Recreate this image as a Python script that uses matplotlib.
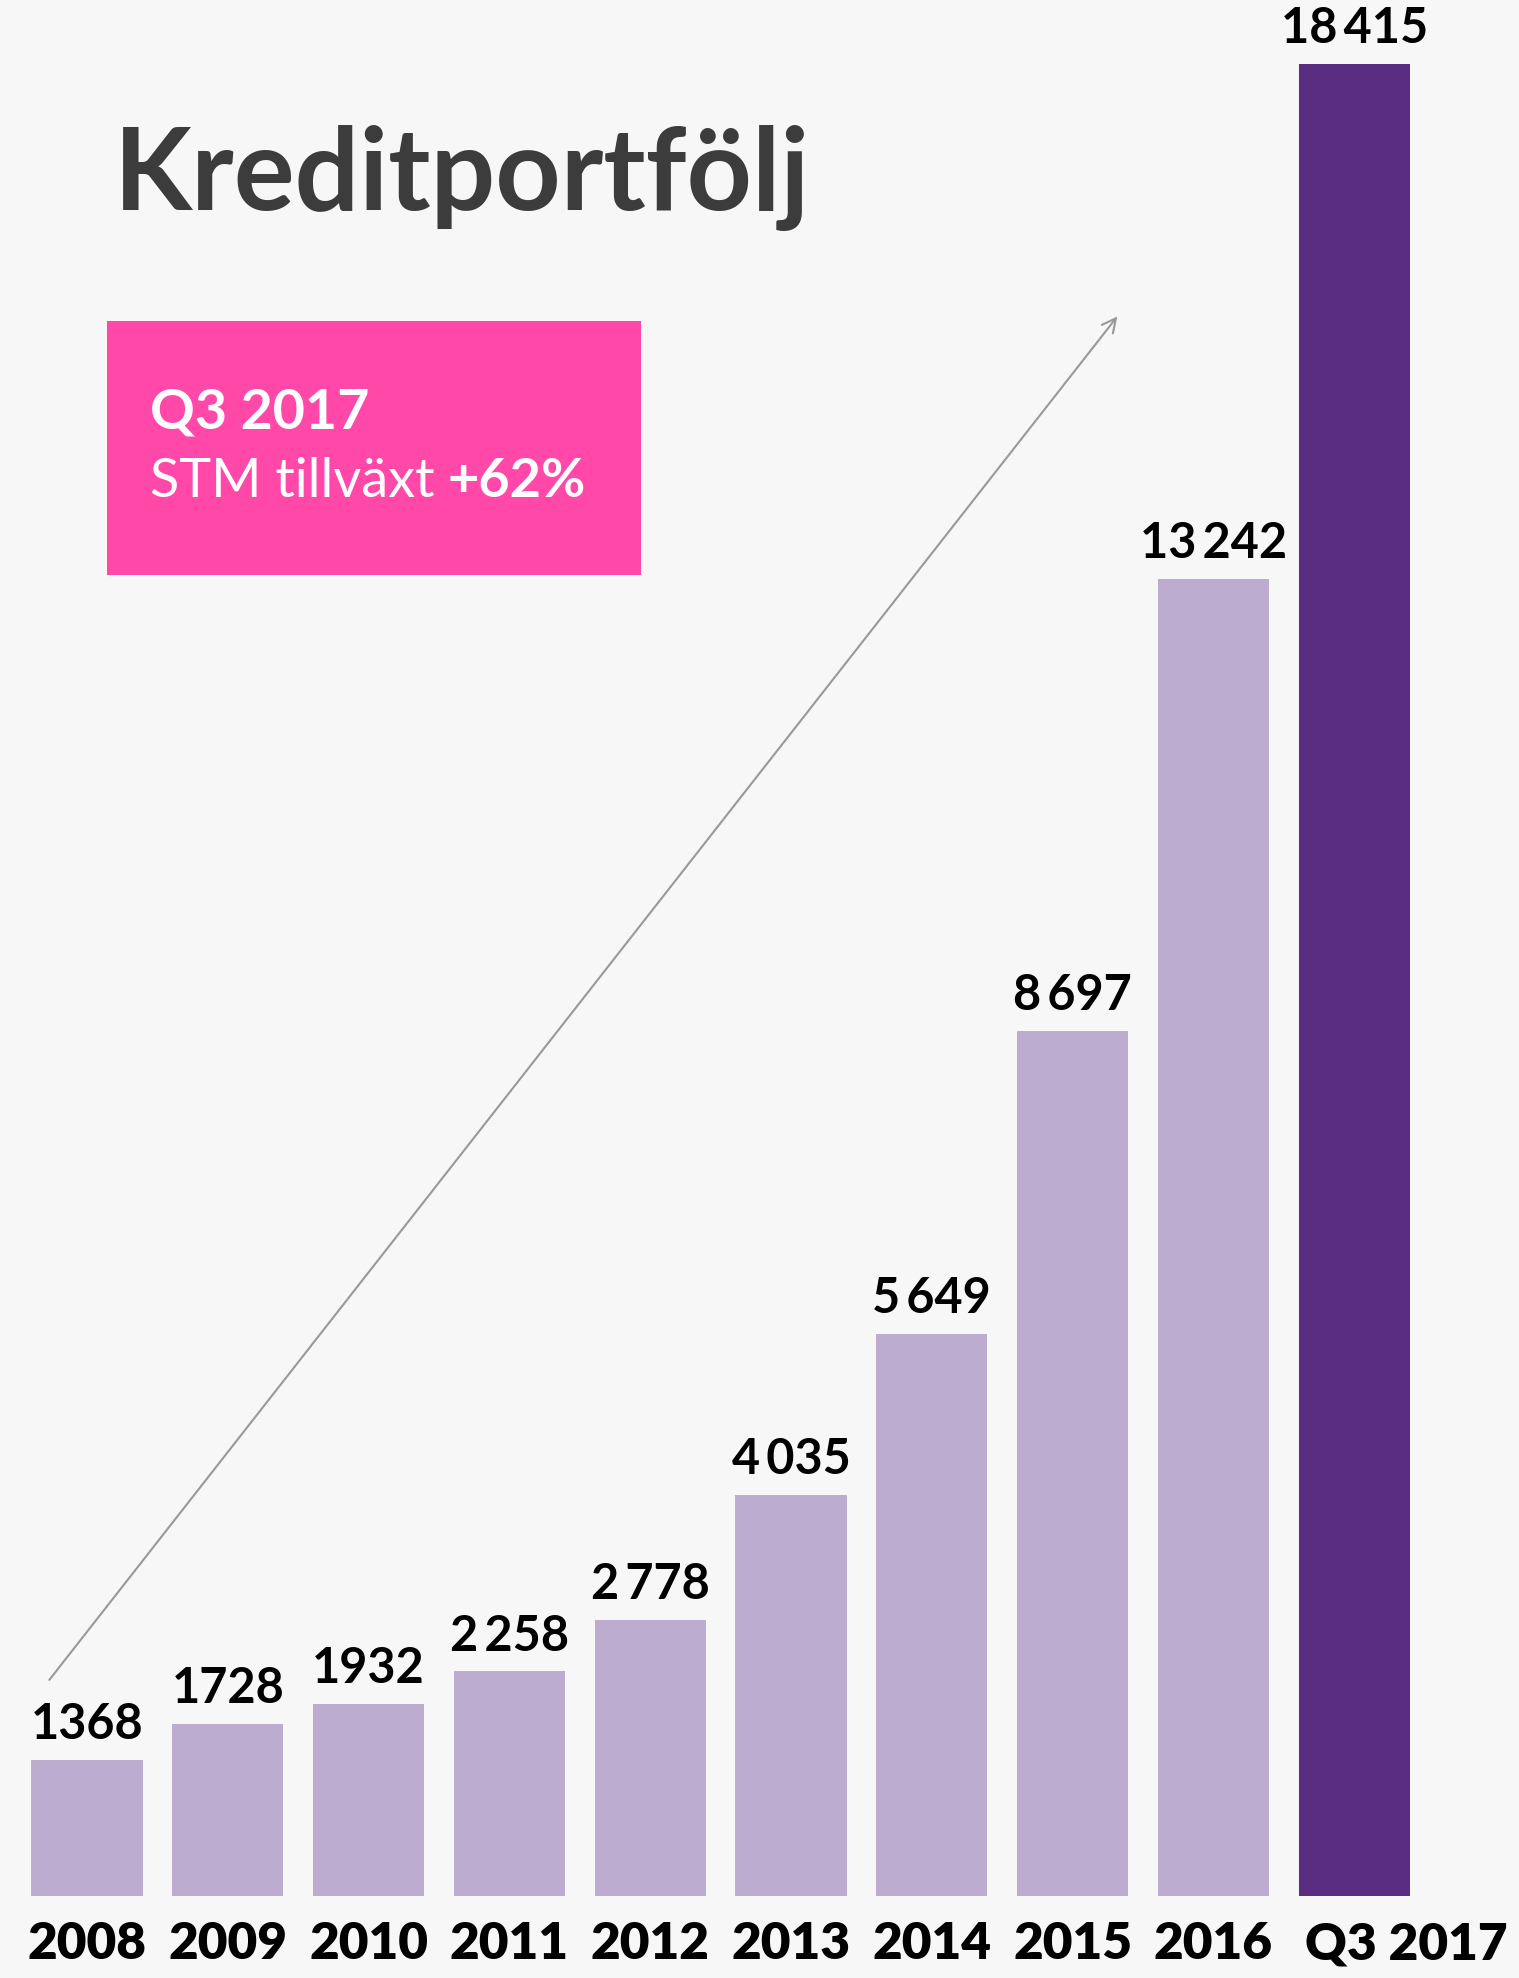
import matplotlib.pyplot as plt
from matplotlib.text import Annotation

years = ['2008', '2009', '2010', '2011', '2012', '2013', '2014', '2015', '2016', 'Q3 2017']
values = [1368, 1728, 1932, 2258, 2778, 4035, 5649, 8697, 13242, 18415]
labels = ['1368', '1728', '1932', '2\u2009258', '2\u2009778', '4\u2009035', '5\u2009649',
          '8\u2009697', '13\u2009242', '18\u2009415']

bg = '#f7f7f7'
light = '#bcacd0'
dark = '#5a2d83'
pink = '#ff48a8'
fam = ['Lato', 'DejaVu Sans']

plt.rcParams['font.family'] = fam

fig = plt.figure(figsize=(15.19, 19.78), dpi=100, facecolor=bg)
ax = fig.add_axes([0, 82 / 1978, 1, 1896 / 1978])
ax.set_facecolor(bg)

x = list(range(len(years)))
colors = [light] * (len(years) - 1) + [dark]
ax.bar(x, values, width=0.79, color=colors)

ax.set_xlim(-0.618, 10.17)
ax.set_ylim(0, 18415 * 1896 / 1832)

for i in range(len(values)):
    ax.annotate(labels[i], (x[i], values[i]), xytext=(0, 15), textcoords='offset points',
                ha='center', va='baseline', fontsize=35, fontweight='bold', color='black')

# year labels
ax.set_xticks(x[:-1])
ax.set_xticklabels(years[:-1], fontsize=37, fontweight='heavy', color='black')
ax.tick_params(axis='x', length=0, pad=18)
ax.set_yticks([])
ax.annotate(years[-1], (x[-1] - 0.35, 0), xytext=(0, -18), textcoords='offset points',
            ha='left', va='top', fontsize=37, fontweight='heavy', color='black')
for s in ax.spines.values():
    s.set_visible(False)

# arrow
ax.annotate('', xy=(7.33, 15900), xytext=(-0.28, 2150),
            arrowprops=dict(arrowstyle='->', color='#999999', lw=1.5, mutation_scale=25))

# title
fig.text(114 / 1519, 1 - 210 / 1978, 'Kreditportfölj', fontsize=82, fontweight='bold',
         color='#3c3c3c', va='baseline', ha='left')

# pink box
box = plt.Rectangle((107 / 1519, 1 - 575 / 1978), 534 / 1519, 254 / 1978,
                    transform=fig.transFigure, facecolor=pink, edgecolor='none')
fig.patches.append(box)
fig.text(150 / 1519, 1 - 428 / 1978, 'Q3 2017', fontsize=40, fontweight='bold',
         color='white', va='baseline', ha='left', zorder=3)
t1 = fig.text(150 / 1519, 1 - 497 / 1978, 'STM tillväxt', fontsize=39,
              color='white', va='baseline', ha='left', zorder=3)
pct = Annotation('+62%', xy=(1, 0), xycoords=t1, xytext=(9, 0), textcoords='offset points',
                 ha='left', va='bottom', fontsize=39, fontweight='bold', color='white')
pct.set_zorder(3)
fig.add_artist(pct)

fig.savefig('out.png', dpi=100, facecolor=bg)
